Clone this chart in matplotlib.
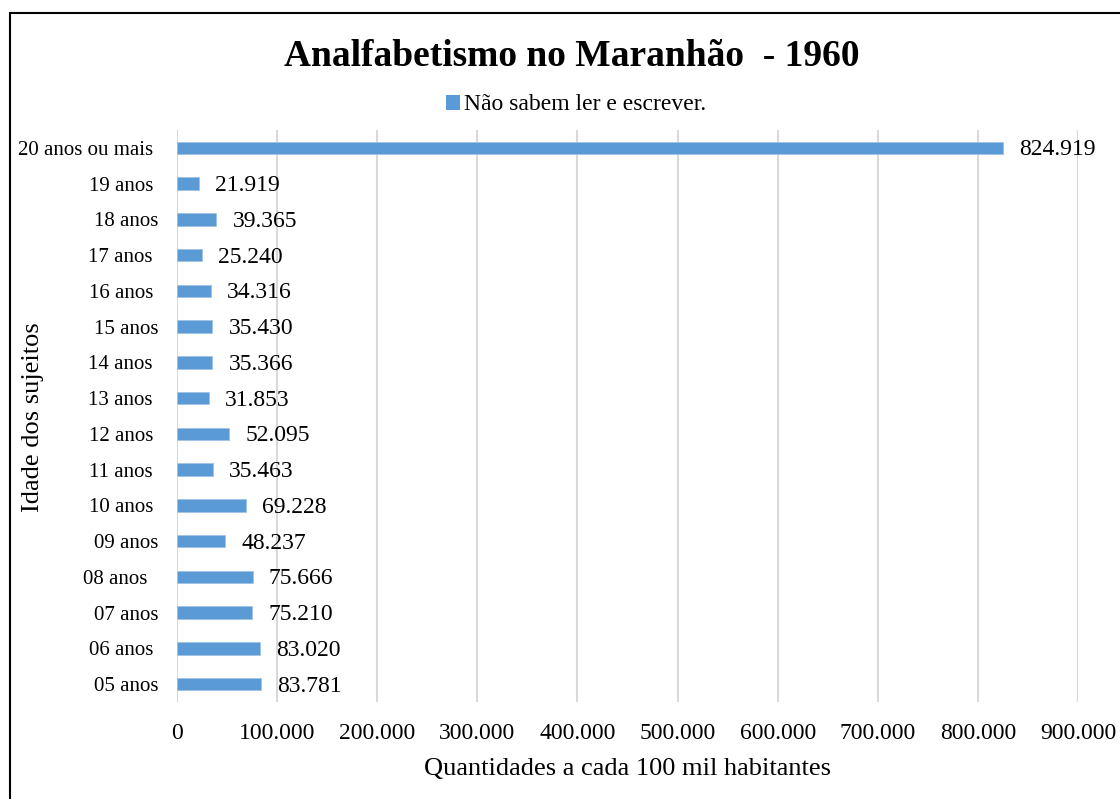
import matplotlib.pyplot as plt
from matplotlib.patches import Rectangle, Patch
from matplotlib.ticker import FuncFormatter

# ---------- DATA ----------
# trailing spaces kept as in the source spreadsheet labels
categories = ["05 anos", "06 anos ", "07 anos", "08 anos  ", "09 anos", "10 anos ",
              "11 anos ", "12 anos ", "13 anos ", "14 anos ", "15 anos", "16 anos ",
              "17 anos ", "18 anos", "19 anos ", "20 anos ou mais "]
values = [83781, 83020, 75210, 75666, 48237, 69228, 35463, 52095, 31853,
          35366, 35430, 34316, 25240, 39365, 21919, 824919]
x_ticks = [0, 100000, 200000, 300000, 400000, 500000, 600000, 700000, 800000, 900000]
series_name = "Não sabem ler e escrever."
# --------------------------

BLUE = "#5B9BD5"
plt.rcParams["font.family"] = ["Liberation Serif", "DejaVu Serif"]


def br_fmt(v):
    # thousands with dot, like Excel pt-BR
    return f"{int(round(v)):,}".replace(",", ".")


fig = plt.figure(figsize=(11.2, 7.99), dpi=100)
ax = fig.add_axes([177 / 1120, 1 - 702 / 799, 901 / 1120, 572 / 799])

ypos = list(range(len(categories)))
ax.barh(ypos, values, height=0.35, color=BLUE, edgecolor="#9DC3E6", linewidth=0.6, zorder=3)

for y, v in zip(ypos, values):
    ax.annotate(br_fmt(v), (v, y), xytext=(11.5, -1.5), textcoords="offset points",
                ha="left", va="center", fontsize=17)

ax.set_ylim(-0.5, len(categories) - 0.5)
ax.set_xlim(0, 900000)
ax.set_xticks(x_ticks)
ax.xaxis.set_major_formatter(FuncFormatter(lambda v, p: br_fmt(v)))
ax.set_yticks(ypos)
ax.set_yticklabels(categories)
ax.tick_params(axis="x", length=0, pad=15, labelsize=17)
ax.tick_params(axis="y", length=0, pad=13.5, labelsize=15)
ax.grid(axis="x", color="#D9D9D9", linewidth=1.5, zorder=0)
for s in ax.spines.values():
    s.set_visible(False)

fig.text(627 / 1120, 1 - 769 / 799, "Quantidades a cada 100 mil habitantes",
         ha="center", va="center", fontsize=19)
fig.text(33 / 1120, 1 - 417 / 799, "Idade dos sujeitos", rotation=90,
         ha="center", va="center", fontsize=19)

fig.text(572 / 1120, 1 - 57 / 799, "Analfabetismo no Maranhão  - 1960",
         ha="center", va="center", fontsize=27, fontweight="bold")

handle = Patch(facecolor=BLUE, edgecolor="none")
fig.legend([handle], [series_name], loc="center", bbox_to_anchor=(576 / 1120, 1 - 105 / 799),
           frameon=False, fontsize=17, handlelength=0.6, handleheight=0.6, handletextpad=0.15)

# outer border (image is cropped on the right and bottom)
fig.patches.append(Rectangle((10 / 1120, -0.05), 1.1, 1 - 13 / 799 + 0.05,
                             transform=fig.transFigure, fill=False,
                             edgecolor="black", linewidth=1.5, clip_on=False))

fig.savefig("out.png", dpi=100)
